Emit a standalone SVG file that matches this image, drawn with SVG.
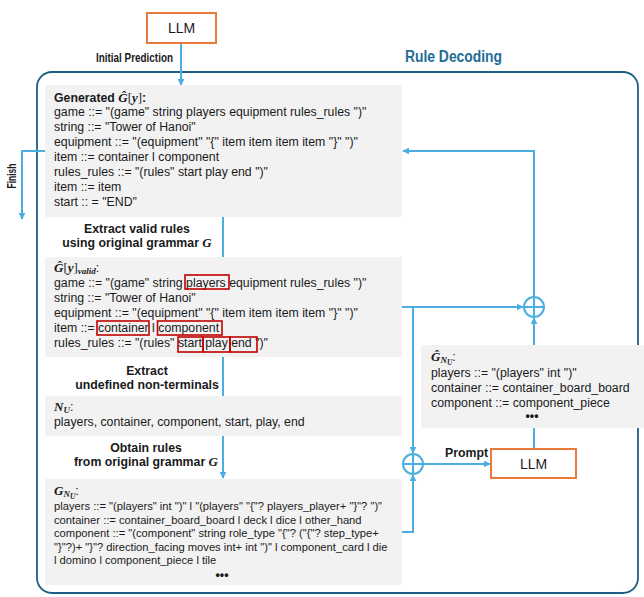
<svg xmlns="http://www.w3.org/2000/svg" width="644" height="597" viewBox="0 0 644 597">
<defs>
<marker id="ah" viewBox="0 0 10 10" refX="9" refY="5" markerWidth="7" markerHeight="7" markerUnits="userSpaceOnUse" orient="auto">
<path d="M0,0 L10,5 L0,10 z" fill="#4aaee2"/>
</marker>
<style>
.t{font-family:"Liberation Sans",Arial,sans-serif;font-size:12.3px;fill:#1a1a1a}
.s{font-size:11.2px}
.b{font-weight:bold}
.m{font-family:"Liberation Serif","Times New Roman",serif;font-weight:bold;font-style:italic}
.mr{font-family:"Liberation Serif","Times New Roman",serif}
.box{fill:#f2f2f2}
.llm{fill:#fff;stroke:#ea7a3c;stroke-width:2}
.c{fill:none;stroke:#4aaee2;stroke-width:2}
.red{fill:none;stroke:#c00000;stroke-width:1.6}
</style>
</defs>
<rect id="frame" x="37" y="72" width="601" height="521" rx="15" fill="none" stroke="#1d5f84" stroke-width="1.8"/>
<text class="t b" x="405" y="62" style="font-size:16px;fill:#236c95" textLength="97" lengthAdjust="spacingAndGlyphs">Rule Decoding</text>
<g id="connectors">
<line class="c" x1="181" y1="43" x2="181" y2="85" marker-end="url(#ah)"/>
<line class="c" x1="223" y1="217" x2="223" y2="257"/>
<line class="c" x1="223" y1="357" x2="223" y2="396"/>
<line class="c" x1="223" y1="436" x2="223" y2="478" marker-end="url(#ah)"/>
<line class="c" x1="402" y1="307" x2="523" y2="307" marker-end="url(#ah)"/>
<polyline class="c" points="413,307 413,453" marker-end="url(#ah)"/>
<polyline class="c" points="402,532 413,532 413,475" marker-end="url(#ah)"/>
<line class="c" x1="423" y1="464" x2="490" y2="464" marker-end="url(#ah)"/>
<line class="c" x1="534" y1="449" x2="534" y2="428"/>
<line class="c" x1="534" y1="345" x2="534" y2="318" marker-end="url(#ah)"/>
<polyline class="c" points="534,297 534,151 403,151" marker-end="url(#ah)"/>
<polyline class="c" points="45,151 22,151 22,219" marker-end="url(#ah)"/>
<g id="plus1"><circle cx="534" cy="307" r="10" fill="#fff" stroke="#4aaee2" stroke-width="2"/><path d="M524,307 H544 M534,297 V317" stroke="#4aaee2" stroke-width="2"/></g>
<g id="plus2"><circle cx="413" cy="464" r="10" fill="#fff" stroke="#4aaee2" stroke-width="2"/><path d="M403,464 H423 M413,454 V474" stroke="#4aaee2" stroke-width="2"/></g>
<text class="t b" x="134.5" y="62" text-anchor="middle" textLength="77" lengthAdjust="spacingAndGlyphs">Initial Prediction</text>
<text class="t b" x="137" y="233" text-anchor="middle">Extract valid rules</text>
<text class="t b" x="137" y="247" text-anchor="middle">using original grammar <tspan class="m" style="font-size:13px">G</tspan></text>
<text class="t b" x="147" y="375" text-anchor="middle">Extract</text>
<text class="t b" x="147" y="389" text-anchor="middle">undefined non-terminals</text>
<text class="t b" x="146" y="452" text-anchor="middle">Obtain rules</text>
<text class="t b" x="146" y="466" text-anchor="middle">from original grammar <tspan class="m" style="font-size:13px">G</tspan></text>
<text class="t b" x="466.5" y="457" text-anchor="middle">Prompt</text>
<text class="t b" transform="translate(16,176) rotate(-90)" text-anchor="middle" textLength="25" lengthAdjust="spacingAndGlyphs">Finish</text>
</g>
<g id="llm-top">
<rect class="llm" x="147" y="13" width="69" height="30"/>
<text class="t" x="181.5" y="33" text-anchor="middle" style="font-size:14px">LLM</text>
</g>
<g id="generated">
<rect class="box" x="45" y="85" width="357" height="132"/>
<text class="t" x="54" y="102"><tspan class="b">Generated </tspan><tspan class="m" style="font-size:13px">Ĝ</tspan><tspan class="mr" style="font-size:13px">[</tspan><tspan class="m" style="font-size:13px">y</tspan><tspan class="mr" style="font-size:13px">]</tspan><tspan class="b">:</tspan></text>
<text class="t" x="54" y="116">game ::= "(game" string players equipment rules_rules ")"</text>
<text class="t" x="54" y="131">string ::= "Tower of Hanoi"</text>
<text class="t" x="54" y="146">equipment ::= "(equipment" "{" item item item item "}" ")"</text>
<text class="t" x="54" y="161">item ::= container l component</text>
<text class="t" x="54" y="176">rules_rules ::= "(rules" start play end ")"</text>
<text class="t" x="54" y="191">item ::= item</text>
<text class="t" x="54" y="206">start :: = "END"</text>
</g>
<g id="valid">
<rect class="box" x="45" y="257" width="357" height="100"/>
<text class="t" x="54" y="272"><tspan class="m" style="font-size:13px">Ĝ</tspan><tspan class="mr" style="font-size:13px">[</tspan><tspan class="m" style="font-size:13px">y</tspan><tspan class="mr" style="font-size:13px">]</tspan><tspan class="m" style="font-size:9px" dy="2">valid</tspan><tspan dy="-2">:</tspan></text>
<text class="t" x="54" y="287">game ::= "(game" string players equipment rules_rules ")"</text>
<text class="t" x="54" y="302">string ::= "Tower of Hanoi"</text>
<text class="t" x="54" y="317">equipment ::= "(equipment" "{" item item item item "}" ")"</text>
<text class="t" x="54" y="332">item ::= container l component</text>
<text class="t" x="54" y="347">rules_rules ::= "(rules" start play end ")"</text>
<rect class="red" x="185" y="275" width="44" height="14"/>
<rect class="red" x="97" y="321" width="52" height="14"/>
<rect class="red" x="157.5" y="321" width="64.5" height="14"/>
<rect class="red" x="178" y="337" width="25" height="15"/>
<rect class="red" x="203" y="337" width="27" height="15"/>
<rect class="red" x="230" y="337" width="27" height="15"/>
</g>
<g id="nu">
<rect class="box" x="45" y="396" width="357" height="40"/>
<text class="t" x="54" y="411"><tspan class="m" style="font-size:13px">N</tspan><tspan class="m" style="font-size:9px" dy="2">U</tspan><tspan dy="-2">:</tspan></text>
<text class="t" x="54" y="426">players, container, component, start, play, end</text>
</g>
<g id="gnu">
<rect class="box" x="45" y="479" width="357" height="106"/>
<text class="t" x="54" y="495"><tspan class="m" style="font-size:13px">G</tspan><tspan class="m" style="font-size:9px" dy="2">N</tspan><tspan class="m" style="font-size:7.5px" dy="1.5">U</tspan><tspan dy="-3.5">:</tspan></text>
<text class="t s" x="54" y="510">players ::= "(players" int ")" l "(players" "{"? players_player+ "}"? ")"</text>
<text class="t s" x="54" y="523.5">container ::= container_board_board l deck l dice l other_hand</text>
<text class="t s" x="54" y="537">component ::= "(component" string role_type "{"? ("{"? step_type+</text>
<text class="t s" x="54" y="550.5">"}"?)+ "}"? direction_facing moves int+ int ")" l component_card l die</text>
<text class="t s" x="54" y="564">l domino l component_piece l tile</text>
<text class="t b" x="222" y="579" text-anchor="middle">•••</text>
</g>
<g id="gnu-hat">
<rect class="box" x="421" y="345" width="223" height="83"/>
<text class="t" x="431" y="361"><tspan class="m" style="font-size:13px">Ĝ</tspan><tspan class="m" style="font-size:9px" dy="2">N</tspan><tspan class="m" style="font-size:7.5px" dy="1.5">U</tspan><tspan dy="-3.5">:</tspan></text>
<text class="t" x="431" y="377">players ::= "(players" int ")"</text>
<text class="t" x="431" y="392">container ::= container_board_board</text>
<text class="t" x="431" y="407">component ::= component_piece</text>
<text class="t b" x="532" y="420" text-anchor="middle">•••</text>
</g>
<g id="llm-bottom">
<rect class="llm" x="491" y="449" width="85" height="29"/>
<text class="t" x="533.5" y="469" text-anchor="middle" style="font-size:14px">LLM</text>
</g>
</svg>
